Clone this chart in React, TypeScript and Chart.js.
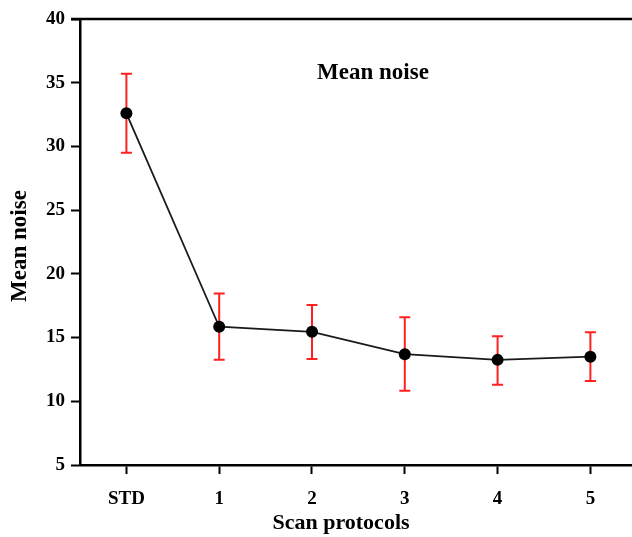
import React, { useEffect, useRef } from "react";
import { Chart, registerables } from "chart.js";

Chart.register(...registerables);

const categories = ["STD", "1", "2", "3", "4", "5"];
const meanNoise = [32.6, 15.85, 15.45, 13.7, 13.25, 13.5];
const errUpper = [35.7, 18.45, 17.55, 16.6, 15.1, 15.42];
const errLower = [29.5, 13.25, 13.32, 10.83, 11.3, 11.6];
const yTicks = [5, 10, 15, 20, 25, 30, 35, 40];

const FONT = "'Liberation Serif', 'Times New Roman', serif";

const errorBarPlugin = {
  id: "errorBars",
  beforeDatasetsDraw(chart: any) {
    const { ctx, scales } = chart;
    const x = scales.x;
    const y = scales.y;
    ctx.save();
    ctx.strokeStyle = "#ff2020";
    ctx.lineWidth = 2;
    for (let i = 0; i < categories.length; i++) {
      const px = x.getPixelForValue(i);
      const top = y.getPixelForValue(errUpper[i]);
      const bot = y.getPixelForValue(errLower[i]);
      ctx.beginPath();
      ctx.moveTo(px, top);
      ctx.lineTo(px, bot);
      ctx.moveTo(px - 5.5, top);
      ctx.lineTo(px + 5.5, top);
      ctx.moveTo(px - 5.5, bot);
      ctx.lineTo(px + 5.5, bot);
      ctx.stroke();
    }
    ctx.restore();
  },
};

const framePlugin = {
  id: "frameAndTitle",
  afterDraw(chart: any) {
    const { ctx, chartArea } = chart;
    ctx.save();
    ctx.strokeStyle = "#000";
    ctx.lineWidth = 2.5;
    ctx.beginPath();
    ctx.moveTo(chartArea.left - 9, chartArea.top);
    ctx.lineTo(chart.width, chartArea.top);
    ctx.stroke();
    ctx.fillStyle = "#000";
    ctx.font = `bold 23px ${FONT}`;
    ctx.textAlign = "center";
    ctx.textBaseline = "middle";
    ctx.fillText("Mean noise", 373, 73);
    ctx.font = `bold 22px ${FONT}`;
    ctx.fillText("Scan protocols", 341, 523);
    ctx.translate(20, 246);
    ctx.rotate(-Math.PI / 2);
    ctx.font = `bold 23px ${FONT}`;
    ctx.fillText("Mean noise", 0, 0);
    ctx.restore();
  },
};

export default function App() {
  const ref = useRef<HTMLCanvasElement>(null);
  useEffect(() => {
    if (!ref.current) return;
    const chart = new Chart(ref.current, {
      type: "line",
      data: {
        datasets: [
          {
            label: "Mean noise",
            data: meanNoise.map((v, i) => ({ x: i, y: v })),
            borderColor: "#1a1a1a",
            borderWidth: 1.8,
            pointRadius: 6,
            pointBackgroundColor: "#000",
            pointBorderColor: "#000",
            pointBorderWidth: 0,
            tension: 0,
          },
        ],
      },
      options: {
        responsive: false,
        animation: false,
        layout: { padding: { top: 19, right: 0, left: 0, bottom: 0 } },
        plugins: {
          legend: { display: false },
          tooltip: { enabled: false },
          title: { display: false },
        },
        scales: {
          x: {
            type: "linear",
            min: -0.5,
            max: 5.47,
            afterFit(scale: any) {
              scale.height = 72;
              scale.paddingLeft = 0;
              scale.paddingRight = 0;
            },
            afterBuildTicks(scale: any) {
              scale.ticks = categories.map((_, i) => ({ value: i }));
            },
            grid: {
              display: true,
              drawOnChartArea: false,
              drawTicks: true,
              tickLength: 9,
              tickWidth: 2,
              tickColor: "#000",
            },
            border: { display: true, color: "#000", width: 2.5 },
            ticks: {
              color: "#000",
              padding: 14,
              autoSkip: false,
              font: { family: FONT, size: 19, weight: "bold" },
              maxRotation: 0,
              callback: (v: any) => categories[Math.round(Number(v))] ?? "",
            },
          },
          y: {
            min: 5,
            max: 40,
            afterFit(scale: any) {
              scale.width = 80;
              scale.paddingTop = 0;
              scale.paddingBottom = 0;
            },
            afterBuildTicks(scale: any) {
              scale.ticks = yTicks.map((v) => ({ value: v }));
            },
            grid: {
              display: true,
              drawOnChartArea: false,
              drawTicks: true,
              tickLength: 9,
              tickWidth: 2,
              tickColor: "#000",
            },
            border: { display: true, color: "#000", width: 2.5 },
            ticks: {
              color: "#000",
              padding: 6,
              font: { family: FONT, size: 19, weight: "bold" },
            },
          },
        },
      },
      plugins: [errorBarPlugin, framePlugin],
    });
    return () => chart.destroy();
  }, []);
  return (
    <div style={{ position: "absolute", left: 0, top: 0, width: 632, height: 537, background: "#fff", overflow: "hidden" }}>
      <canvas ref={ref} width={640} height={537} style={{ display: "block" }} />
    </div>
  );
}
